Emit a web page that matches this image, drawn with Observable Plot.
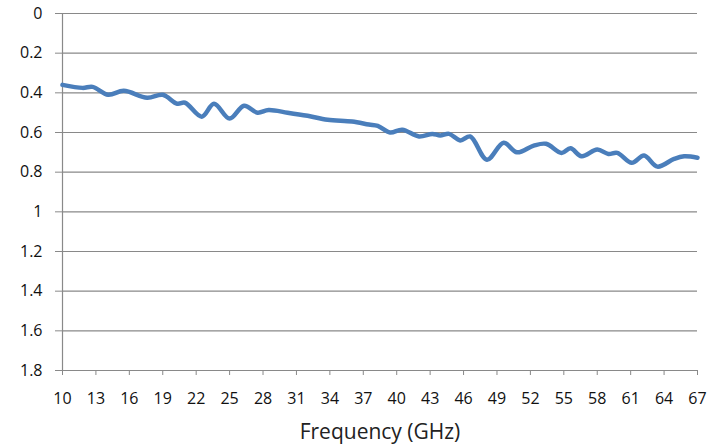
<!DOCTYPE html>
<html>
<head>
<meta charset="utf-8">
<script src="https://cdn.jsdelivr.net/npm/d3@7"></script>
<script src="https://cdn.jsdelivr.net/npm/@observablehq/plot@0.6"></script>
<style>
  html, body { margin: 0; padding: 0; background: #fff; }
</style>
</head>
<body>
<div id="chart"></div>
<script>
const freq = [10, 11.8, 12.7, 14.1, 15.5, 17.6, 19.0, 20.3, 21.0, 22.5, 23.6, 25.0, 26.3, 27.5, 28.5, 30.2, 32.0, 33.8, 36.0, 37.5, 38.3, 39.4, 40.5, 42.0, 43.2, 43.9, 44.7, 45.7, 46.6, 48.1, 49.6, 50.8, 52.3, 53.4, 54.8, 55.6, 56.6, 58.0, 59.0, 59.8, 61.1, 62.2, 63.4, 64.9, 65.8, 67];
const loss = [0.36, 0.375, 0.37, 0.41, 0.39, 0.425, 0.41, 0.455, 0.45, 0.52, 0.455, 0.53, 0.465, 0.50, 0.487, 0.50, 0.516, 0.536, 0.545, 0.56, 0.567, 0.60, 0.586, 0.62, 0.607, 0.615, 0.607, 0.64, 0.62, 0.737, 0.652, 0.70, 0.666, 0.657, 0.703, 0.68, 0.72, 0.686, 0.708, 0.703, 0.753, 0.716, 0.772, 0.733, 0.72, 0.727];
const xTicks = [10, 13, 16, 19, 22, 25, 28, 31, 34, 37, 40, 43, 46, 49, 52, 55, 58, 61, 64, 67];
const yTicks = [0, 0.2, 0.4, 0.6, 0.8, 1, 1.2, 1.4, 1.6, 1.8];
const xTitle = "Frequency (GHz)";

const data = freq.map((f, i) => ({f, v: loss[i]}));
const gray = "#898989";

const chart = Plot.plot({
  width: 723,
  height: 446,
  marginLeft: 62,
  marginRight: 26,
  marginTop: 13,
  marginBottom: 76,
  style: {fontFamily: "'Open Sans', sans-serif", fontSize: "16px", color: "#000", background: "#fff"},
  x: {domain: [10, 67], label: null},
  y: {domain: [0, 1.8], reverse: true, label: null},
  marks: [
    Plot.gridY(yTicks, {stroke: gray, strokeOpacity: 1, strokeWidth: 1.2}),
    Plot.ruleX([10], {stroke: gray, strokeWidth: 1.2}),
    Plot.axisY(yTicks, {tickSize: 7, tickPadding: 13, stroke: gray, strokeOpacity: 1, tickFormat: d => String(d), fontSize: 16, fill: "#111", label: null}),
    Plot.axisX(xTicks, {tickSize: 5, tickPadding: 17, stroke: gray, strokeOpacity: 1, tickFormat: d => String(d), fontSize: 16, fill: "#111", label: null}),
    Plot.ruleY([1.8], {stroke: gray, strokeWidth: 1.2}),
    Plot.line(data, {x: "f", y: "v", curve: "catmull-rom", stroke: "#4a7ebb", strokeWidth: 4.5, strokeLinecap: "round", strokeLinejoin: "round"}),
    Plot.text([xTitle], {frameAnchor: "bottom", dy: 62, lineAnchor: "middle", fontSize: 21, fill: "#222"})
  ]
});
document.getElementById("chart").appendChild(chart);
</script>
</body>
</html>
